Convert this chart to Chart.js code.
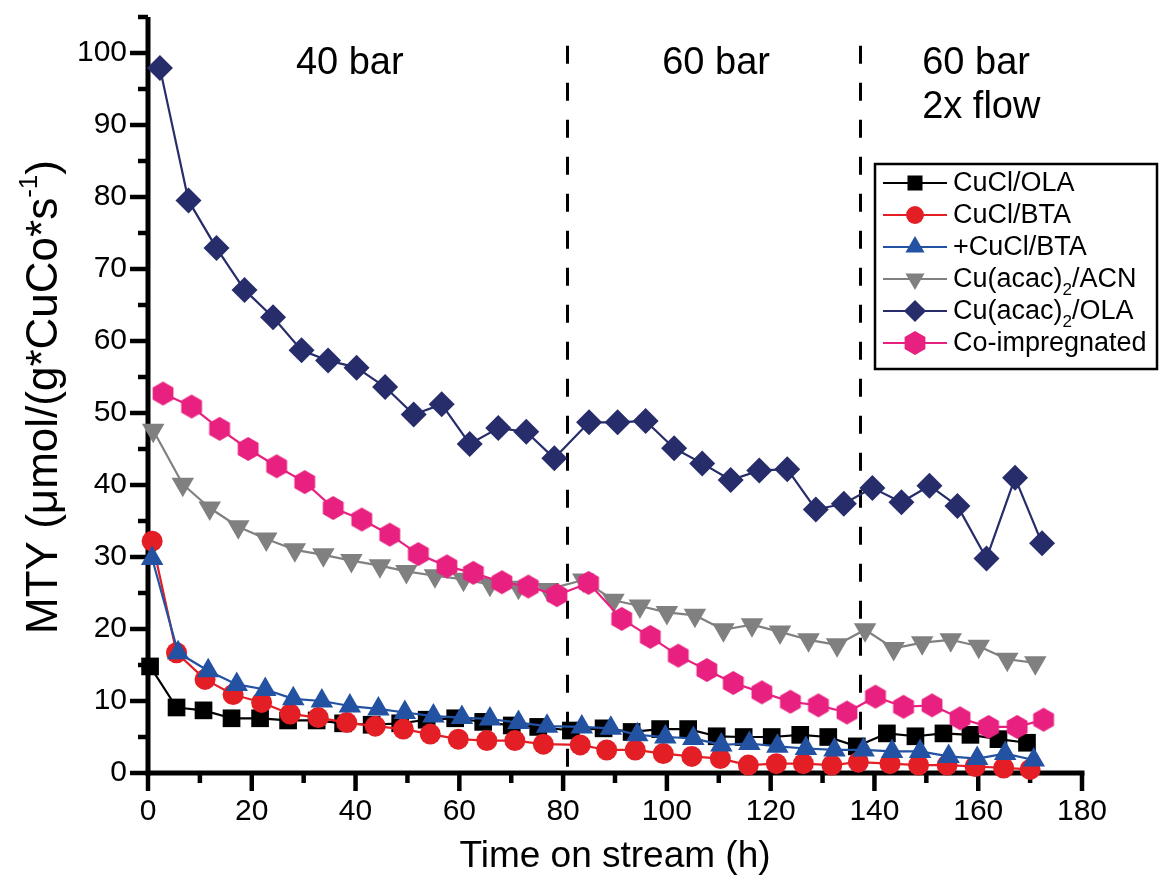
<!DOCTYPE html>
<html><head><meta charset="utf-8">
<script src="https://cdn.jsdelivr.net/npm/chart.js@4.4.0/dist/chart.umd.min.js"></script>
<style>html,body{margin:0;padding:0;background:#fff;}canvas{display:block;}</style>
</head><body>
<canvas id="c" width="1160" height="883"></canvas>
<script>
// ---------- data ----------
const seriesNames = ['CuCl/OLA', 'CuCl/BTA', '+CuCl/BTA', 'Cu(acac)_2/ACN', 'Cu(acac)_2/OLA', 'Co-impregnated'];

const cuclOlaX = [0.4, 5.5, 10.7, 16.1, 21.6, 27.0, 32.5, 37.6, 43.1, 48.6, 53.7, 59.2, 64.6, 70.1, 75.2, 81.5, 87.8, 93.2, 98.7, 104.1, 109.6, 114.8, 120.2, 125.7, 131.1, 136.6, 142.4, 147.9, 153.3, 158.5, 163.9, 169.4];
const cuclOlaY = [14.8, 9.1, 8.7, 7.6, 7.6, 7.3, 7.3, 6.9, 6.7, 6.9, 7.4, 7.6, 7.1, 6.6, 6.4, 5.9, 6.2, 5.7, 6.1, 6.1, 5.1, 5.0, 5.0, 5.3, 5.0, 3.7, 5.5, 5.1, 5.5, 5.3, 4.7, 4.2];

const cuclBtaX = [0.8, 5.5, 11.0, 16.4, 21.9, 27.4, 32.8, 38.3, 43.8, 49.2, 54.4, 59.8, 65.3, 70.7, 76.2, 83.3, 88.4, 93.9, 99.3, 104.8, 110.3, 115.7, 121.1, 126.3, 131.8, 136.9, 143.0, 148.5, 154.0, 159.4, 164.9, 170.0];
const cuclBtaY = [32.2, 16.7, 13.0, 10.9, 9.8, 8.2, 7.7, 7.0, 6.5, 6.1, 5.4, 4.7, 4.5, 4.5, 4.0, 3.9, 3.2, 3.2, 2.7, 2.3, 2.0, 1.1, 1.3, 1.3, 1.1, 1.5, 1.3, 1.1, 1.1, 0.9, 0.7, 0.5];

const plusCuclBtaX = [0.8, 5.8, 11.6, 17.1, 22.6, 28.0, 33.5, 38.9, 44.4, 49.5, 55.0, 60.5, 65.9, 71.4, 76.9, 83.6, 89.2, 94.3, 99.7, 105.1, 110.5, 115.9, 121.3, 126.8, 132.3, 137.9, 143.4, 148.8, 154.3, 159.8, 165.2, 170.7];
const plusCuclBtaY = [29.8, 16.7, 14.2, 12.3, 11.6, 10.3, 10.0, 9.3, 8.9, 8.4, 7.9, 7.7, 7.5, 7.0, 6.5, 6.4, 6.2, 5.3, 5.0, 4.8, 3.9, 4.1, 3.7, 3.4, 3.2, 3.2, 3.0, 3.0, 2.3, 2.0, 2.7, 1.8];

const acacAcnX = [1.0, 6.7, 11.9, 17.4, 22.8, 28.3, 33.8, 39.2, 44.7, 49.8, 55.3, 60.8, 65.9, 71.4, 77.1, 83.9, 89.7, 94.8, 100.0, 105.4, 110.9, 116.4, 121.8, 127.3, 132.8, 138.2, 143.7, 149.2, 154.7, 160.1, 165.6, 171.0];
const acacAcnY = [47.6, 40.1, 36.8, 34.2, 32.5, 31.0, 30.3, 29.5, 28.8, 28.0, 27.4, 26.9, 26.2, 25.8, 25.5, 26.8, 24.0, 23.2, 22.3, 21.9, 19.9, 20.6, 19.6, 18.5, 17.8, 19.9, 17.3, 18.1, 18.5, 17.6, 15.8, 15.3];

const acacOlaX = [2.3, 7.8, 13.2, 18.6, 24.1, 29.6, 34.7, 40.2, 45.7, 51.2, 56.6, 62.0, 67.5, 72.9, 78.3, 85.0, 90.5, 95.9, 101.4, 106.8, 112.3, 117.8, 123.2, 128.7, 134.1, 139.6, 145.2, 150.6, 156.0, 161.6, 167.1, 172.3];
const acacOlaY = [97.9, 79.5, 72.9, 67.1, 63.3, 58.7, 57.3, 56.3, 53.6, 49.8, 51.2, 45.7, 47.9, 47.4, 43.7, 48.7, 48.7, 48.9, 45.1, 43.0, 40.7, 42.0, 42.2, 36.6, 37.4, 39.6, 37.6, 39.9, 37.1, 29.8, 41.0, 31.9];

const coImpX = [2.9, 8.4, 13.8, 19.3, 24.8, 30.2, 35.7, 41.2, 46.6, 52.1, 57.6, 62.7, 68.2, 73.3, 78.8, 84.9, 91.3, 96.8, 102.2, 107.7, 112.8, 118.3, 123.8, 129.2, 134.7, 140.2, 145.6, 151.1, 156.5, 162.0, 167.5, 172.6];
const coImpY = [52.7, 50.9, 47.8, 45.0, 42.6, 40.4, 36.8, 35.2, 33.1, 30.4, 28.7, 27.8, 26.5, 25.9, 24.7, 26.4, 21.4, 18.9, 16.3, 14.3, 12.5, 11.2, 9.9, 9.4, 8.4, 10.6, 9.2, 9.4, 7.6, 6.4, 6.4, 7.4];

const xTickValues = [0, 20, 40, 60, 80, 100, 120, 140, 160, 180];
const yTickValues = [0, 10, 20, 30, 40, 50, 60, 70, 80, 90, 100];
const phaseDividers = [80.8, 137.2];
const phaseLabels = [['40 bar'], ['60 bar'], ['60 bar', '2x flow']];
const xTitle = 'Time on stream (h)';
const yTitleParts = ['MTY (\u03bcmol/(g*CuCo*s', '-1', ')'];

// ---------- layout / style (not data) ----------
const FONT = '"Liberation Sans", Arial, Helvetica, sans-serif';
const phaseLabelPos = [{x: 28.5, y: 98.5}, {x: 99.1, y: 98.5}, {x: 149.2, y: 98.5}];
const dividerTopValue = 101;

function hexagonCanvas(color, r) {
  const c = document.createElement('canvas');
  const s = Math.ceil(r * 2 + 2);
  c.width = s; c.height = s;
  const g = c.getContext('2d');
  g.fillStyle = color;
  g.beginPath();
  for (let i = 0; i < 6; i++) {
    const a = Math.PI / 3 * i + Math.PI / 6;
    const px = s / 2 + r * Math.cos(a), py = s / 2 + r * Math.sin(a);
    if (i === 0) g.moveTo(px, py); else g.lineTo(px, py);
  }
  g.closePath(); g.fill();
  return c;
}

const styles = [
  {color: '#000000', pointStyle: 'rect', radius: 12.5, rotation: 0},
  {color: '#e31e24', pointStyle: 'circle', radius: 10.5, rotation: 0},
  {color: '#2352a3', pointStyle: 'triangle', radius: 13, rotation: 0},
  {color: '#808080', pointStyle: 'triangle', radius: 13, rotation: 180},
  {color: '#272c6a', pointStyle: 'rectRot', radius: 13, rotation: 0},
  {color: '#e8207f', pointStyle: hexagonCanvas('#e8207f', 12), radius: 11, rotation: 0},
];

const xs = [cuclOlaX, cuclBtaX, plusCuclBtaX, acacAcnX, acacOlaX, coImpX];
const ys = [cuclOlaY, cuclBtaY, plusCuclBtaY, acacAcnY, acacOlaY, coImpY];

const datasets = seriesNames.map((name, i) => ({
  label: name,
  data: xs[i].map((x, k) => ({x: x, y: ys[i][k]})),
  borderColor: styles[i].color,
  backgroundColor: styles[i].color,
  pointBackgroundColor: styles[i].color,
  pointBorderColor: styles[i].color,
  pointBorderWidth: 0,
  borderWidth: 2.2,
  pointStyle: styles[i].pointStyle,
  pointRadius: styles[i].radius,
  pointRotation: styles[i].rotation,
  tension: 0,
  clip: false,
  order: seriesNames.length - i
}));

function drawRichText(ctx, text, x, y, size) {
  let cx = x;
  const parts = text.split('_');
  ctx.textBaseline = 'middle';
  ctx.textAlign = 'left';
  parts.forEach((p, idx) => {
    let rest = p;
    if (idx > 0) {
      const sub = p[0]; rest = p.slice(1);
      ctx.font = Math.round(size * 0.62) + 'px ' + FONT;
      ctx.fillText(sub, cx, y + size * 0.38);
      cx += ctx.measureText(sub).width;
    }
    ctx.font = size + 'px ' + FONT;
    ctx.fillText(rest, cx, y);
    cx += ctx.measureText(rest).width;
  });
}

const decorPlugin = {
  id: 'decor',
  beforeDatasetsDraw(chart) {
    const {ctx, chartArea: a, scales: {x, y}} = chart;
    ctx.save();
    ctx.strokeStyle = '#000';
    ctx.lineWidth = 3;
    ctx.setLineDash([18, 19]);
    phaseDividers.forEach(h => {
      const px = Math.round(x.getPixelForValue(h)) + 0.5;
      ctx.beginPath();
      ctx.moveTo(px, y.getPixelForValue(dividerTopValue));
      ctx.lineTo(px, a.bottom);
      ctx.stroke();
    });
    ctx.setLineDash([]);
    ctx.lineWidth = 5;
    ctx.beginPath(); ctx.moveTo(a.left, a.top); ctx.lineTo(a.left, a.bottom + 2.5); ctx.stroke();
    ctx.beginPath(); ctx.moveTo(a.left - 2.5, a.bottom); ctx.lineTo(a.right + 2.5, a.bottom); ctx.stroke();
    ctx.lineWidth = 4.5;
    x.ticks.forEach(t => {
      const px = x.getPixelForValue(t.value);
      const major = xTickValues.includes(t.value);
      ctx.beginPath(); ctx.moveTo(px, a.bottom); ctx.lineTo(px, a.bottom + (major ? 18 : 10)); ctx.stroke();
    });
    y.ticks.forEach(t => {
      const py = y.getPixelForValue(t.value);
      const major = yTickValues.includes(t.value);
      ctx.beginPath(); ctx.moveTo(a.left, py); ctx.lineTo(a.left - (major ? 18 : 10), py); ctx.stroke();
    });
    ctx.restore();
  },
  afterDraw(chart) {
    const {ctx, chartArea: a, scales: {x, y}} = chart;
    ctx.save();
    ctx.fillStyle = '#000';
    ctx.font = '38px ' + FONT;
    ctx.textAlign = 'left'; ctx.textBaseline = 'middle';
    phaseLabels.forEach((lines, i) => {
      const px = x.getPixelForValue(phaseLabelPos[i].x);
      const py = y.getPixelForValue(phaseLabelPos[i].y);
      lines.forEach((ln, k) => ctx.fillText(ln, px, py + k * 44));
    });
    ctx.font = '37px ' + FONT;
    ctx.textAlign = 'center';
    ctx.fillText(xTitle, (a.left + a.right) / 2, 857);
    ctx.save();
    ctx.translate(45, (a.top + a.bottom) / 2 + 2);
    ctx.rotate(-Math.PI / 2);
    const big = 44, small = 26;
    ctx.font = big + 'px ' + FONT; const w0 = ctx.measureText(yTitleParts[0]).width;
    ctx.font = small + 'px ' + FONT; const w1 = ctx.measureText(yTitleParts[1]).width;
    ctx.font = big + 'px ' + FONT; const w2 = ctx.measureText(yTitleParts[2]).width;
    let cx = -(w0 + w1 + w2) / 2;
    ctx.textAlign = 'left';
    ctx.fillText(yTitleParts[0], cx, 0); cx += w0;
    ctx.font = small + 'px ' + FONT; ctx.fillText(yTitleParts[1], cx, -15); cx += w1;
    ctx.font = big + 'px ' + FONT; ctx.fillText(yTitleParts[2], cx, 0);
    ctx.restore();
    const L = {left: 875, top: 164, right: 1157, bottom: 369};
    ctx.fillStyle = '#fff';
    ctx.fillRect(L.left, L.top, L.right - L.left, L.bottom - L.top);
    ctx.strokeStyle = '#000'; ctx.lineWidth = 2.5;
    ctx.strokeRect(L.left, L.top, L.right - L.left, L.bottom - L.top);
    chart.data.datasets.forEach((ds, i) => {
      const ry = 183 + i * 32;
      ctx.strokeStyle = ds.borderColor; ctx.lineWidth = 2;
      ctx.beginPath(); ctx.moveTo(883, ry); ctx.lineTo(947, ry); ctx.stroke();
      ctx.fillStyle = ds.pointBackgroundColor;
      Chart.helpers.drawPoint(ctx, {pointStyle: ds.pointStyle, radius: ds.pointRadius * 0.85, rotation: ds.pointRotation, borderWidth: 0}, 915, ry);
      ctx.fillStyle = '#000';
      drawRichText(ctx, ds.label, 953, ry + 1, 27);
    });
    ctx.restore();
  }
};

new Chart(document.getElementById('c'), {
  type: 'line',
  data: {datasets: datasets},
  options: {
    responsive: false,
    animation: false,
    devicePixelRatio: 1,
    layout: {padding: {top: 17, right: 78, left: 0, bottom: 0}},
    plugins: {legend: {display: false}, tooltip: {enabled: false}},
    elements: {line: {borderJoinStyle: 'round'}},
    scales: {
      x: {
        type: 'linear', min: 0, max: 180,
        grid: {display: false, drawTicks: false}, border: {display: false},
        ticks: {stepSize: 10, autoSkip: false, maxRotation: 0, padding: 21, color: '#000',
          font: {family: FONT, size: 30},
          callback: v => xTickValues.includes(v) ? String(v) : ''},
        afterFit: s => { s.height = 110; s.paddingLeft = 0; s.paddingRight = 0; }
      },
      y: {
        type: 'linear', min: 0, max: 105,
        grid: {display: false, drawTicks: false}, border: {display: false},
        ticks: {stepSize: 5, autoSkip: false, padding: 21, color: '#000',
          font: {family: FONT, size: 30},
          callback: v => yTickValues.includes(v) ? String(v) : ''},
        afterFit: s => { s.width = 148; s.paddingTop = 0; s.paddingBottom = 0; }
      }
    }
  },
  plugins: [decorPlugin]
});
</script>
</body></html>
